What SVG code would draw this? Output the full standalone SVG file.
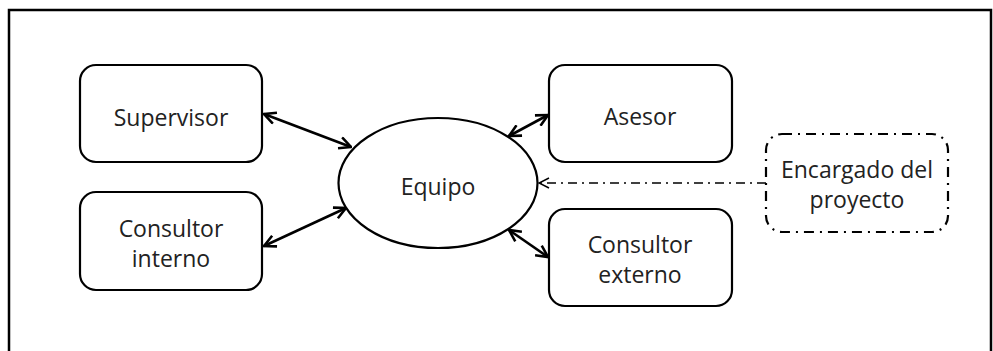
<svg xmlns="http://www.w3.org/2000/svg" width="993" height="351" viewBox="0 0 993 351">
<defs>
<style>
.box{fill:#fff;stroke:#000;stroke-width:2.2}
.lbl{font-family:"Open Sans","Liberation Sans",sans-serif;font-size:23px;fill:#222;text-anchor:middle}
.con{stroke:#000;stroke-width:2.6;fill:none;marker-start:url(#ah);marker-end:url(#ah)}
.dd{stroke:#000;stroke-width:1.4;fill:none;stroke-dasharray:9 5 2 5;marker-end:url(#ah2)}
</style>
<marker id="ah" viewBox="0 0 12 12" refX="11" refY="6" markerWidth="14" markerHeight="14" markerUnits="userSpaceOnUse" orient="auto-start-reverse">
<path d="M1,1 L11,6 L1,11" fill="none" stroke="#000" stroke-width="2.2"/>
</marker>
<marker id="ah2" viewBox="0 0 12 12" refX="11" refY="6" markerWidth="12" markerHeight="12" markerUnits="userSpaceOnUse" orient="auto">
<path d="M1,1 L11,6 L1,11" fill="none" stroke="#000" stroke-width="1.5"/>
</marker>
</defs>
<rect x="9" y="10" width="982" height="350" fill="#fff" stroke="#000" stroke-width="2.5"/>
<g id="connectors">
<line class="con" x1="264" y1="114" x2="351" y2="147"/>
<line class="con" x1="264" y1="246" x2="346" y2="208"/>
<line class="con" x1="509" y1="136" x2="548" y2="115"/>
<line class="con" x1="509" y1="230" x2="548" y2="257"/>
<line class="dd" x1="766" y1="183" x2="539" y2="183"/>
</g>
<g id="supervisor">
<rect class="box" x="80" y="65" width="182" height="97" rx="16"/>
<text class="lbl" x="171" y="126">Supervisor</text>
</g>
<g id="consultor-interno">
<rect class="box" x="80" y="192" width="182" height="98" rx="16"/>
<text class="lbl" x="171" y="237">Consultor</text>
<text class="lbl" x="171" y="267">interno</text>
</g>
<g id="equipo">
<ellipse class="box" cx="438" cy="183" rx="99.5" ry="65"/>
<text class="lbl" x="438" y="195">Equipo</text>
</g>
<g id="asesor">
<rect class="box" x="549" y="65" width="183" height="97" rx="16"/>
<text class="lbl" x="640" y="125">Asesor</text>
</g>
<g id="consultor-externo">
<rect class="box" x="549" y="209" width="183" height="97" rx="16"/>
<text class="lbl" x="640" y="253">Consultor</text>
<text class="lbl" x="640" y="283">externo</text>
</g>
<g id="encargado">
<rect x="766" y="134" width="182" height="98" rx="16" fill="#fff" stroke="#000" stroke-width="2.2" stroke-dasharray="10 6 2 6"/>
<text class="lbl" x="857" y="178">Encargado del</text>
<text class="lbl" x="857" y="208">proyecto</text>
</g>
</svg>
